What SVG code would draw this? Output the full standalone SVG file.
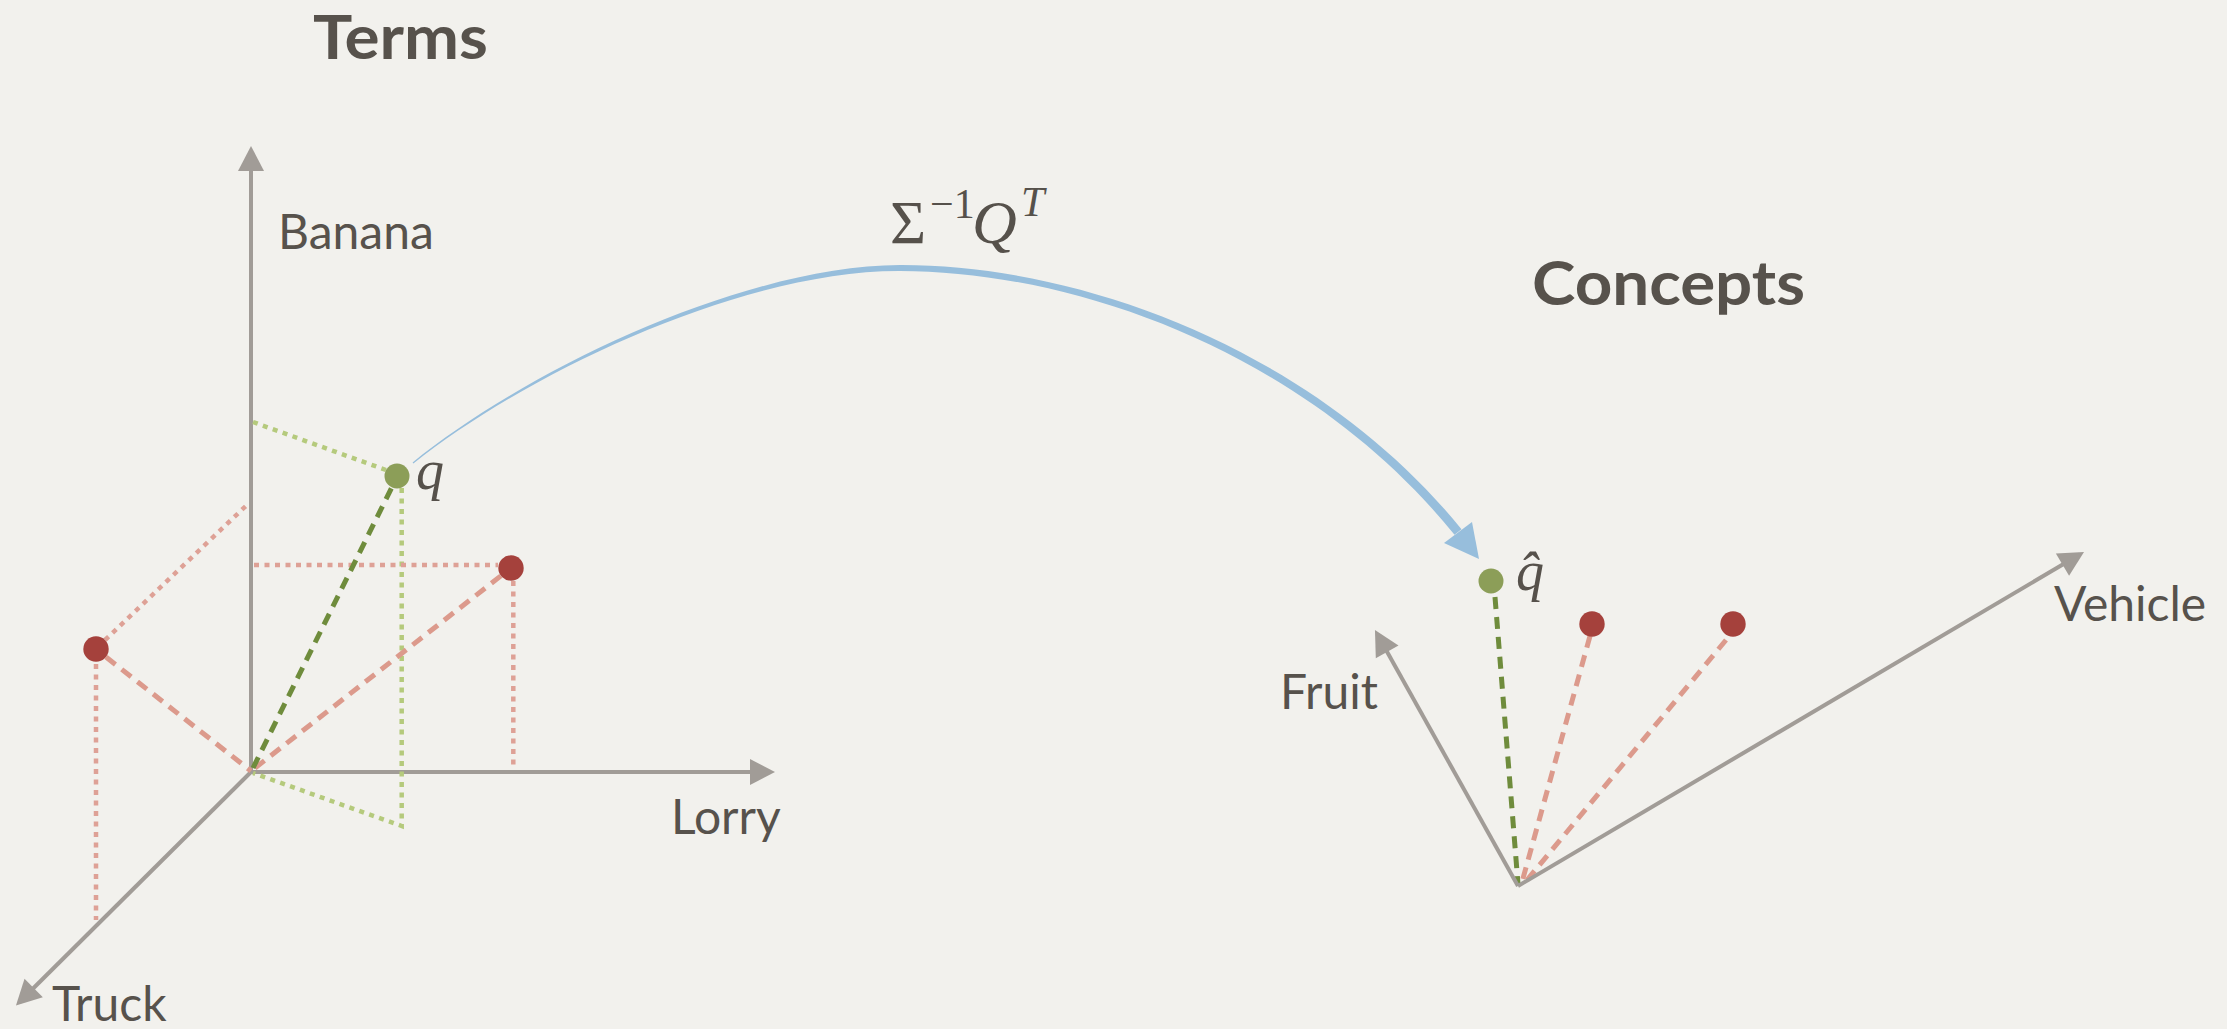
<svg xmlns="http://www.w3.org/2000/svg" width="2227" height="1029" viewBox="0 0 2227 1029">
<style>
.bg{fill:#f2f1ed}
.title{font-family:Lato,"Noto Sans",sans-serif;font-weight:700;font-size:62px;fill:#57524c}
.lbl{font-family:Lato,"Noto Sans",sans-serif;font-size:48px;fill:#57524c}
.math{font-family:"Liberation Serif","DejaVu Serif",serif;fill:#56514b}
.axis{stroke:#a19c97;stroke-width:4;fill:none}
.gdot{stroke:#b5ca7c;stroke-width:4.5;stroke-dasharray:5 5.5;fill:none}
.rdot{stroke:#dea196;stroke-width:4.5;stroke-dasharray:5 5.5;fill:none}
.gdash{stroke:#6f8c3c;stroke-width:5;stroke-dasharray:12 8;fill:none}
.rdash{stroke:#dc9a8c;stroke-width:5;stroke-dasharray:12 8;fill:none}
.rpt{fill:#a5413c}
.gpt{fill:#8c9e58}
.arc{fill:#97bedc}
</style>
<defs>
<marker id="ah" markerUnits="userSpaceOnUse" markerWidth="25" markerHeight="26" refX="20" refY="13" orient="auto" overflow="visible">
<path d="M0,0 L25,13 L0,26 Z" fill="#a19c97"/>
</marker>
</defs>
<rect class="bg" x="0" y="0" width="2227" height="1029"/>

<g id="title-terms"><text class="title" x="313" y="59" textLength="175" lengthAdjust="spacingAndGlyphs">Terms</text></g>
<g id="title-concepts"><text class="title" x="1532" y="305" textLength="273" lengthAdjust="spacingAndGlyphs">Concepts</text></g>

<g id="terms-axes">
<line class="axis" x1="251" y1="772" x2="251" y2="151" marker-end="url(#ah)"/>
<line class="axis" x1="249" y1="772" x2="770" y2="772" marker-end="url(#ah)"/>
<line class="axis" x1="252" y1="771" x2="19.5" y2="1002" marker-end="url(#ah)"/>
<text class="lbl" x="278" y="249">Banana</text>
<text class="lbl" x="671" y="834">Lorry</text>
<text class="lbl" x="52" y="1021">Truck</text>
</g>

<g id="connectors">
<polyline class="gdot" points="253,422 386,470"/>
<polyline class="gdot" points="401.7,488 401.7,826 253,773"/>
<line class="rdot" x1="254" y1="565" x2="498" y2="565"/>
<line class="rdot" x1="513.3" y1="581" x2="513.3" y2="770"/>
<line class="rdot" x1="105" y1="640" x2="249" y2="503"/>
<line class="rdot" x1="96" y1="664" x2="96" y2="920"/>
<line class="rdash" x1="106" y1="657" x2="251" y2="771"/>
<line class="rdash" x1="255" y1="768" x2="502" y2="575"/>
<line class="gdash" x1="253" y1="768" x2="392" y2="487"/>

<line class="gdash" x1="1495" y1="597" x2="1518" y2="884"/>
<line class="rdash" x1="1590" y1="636" x2="1522" y2="882"/>
<line class="rdash" x1="1726" y1="640" x2="1527" y2="880"/>

<g id="transform-arrow">
<path class="arc" d="M412.6,462.5 C526.2,370 744,265.8 900,265.1 C1086,264.5 1319.4,353.8 1461.5,529.2 L1454.5,534.8 C1312.6,359.2 1086,271.5 900,270.9 C744,270.2 527.8,372 413.4,463.5 Z"/>
<path class="arc" d="M1479,559 L1444,543 L1472,522 Z"/>
</g>
</g>

<g id="terms-points">
<circle class="gpt" cx="397" cy="476" r="12.5"/>
<circle class="rpt" cx="511" cy="568" r="12.7"/>
<circle class="rpt" cx="96" cy="649" r="12.7"/>
<text class="math" x="416" y="489" font-size="56" font-style="italic">q</text>
</g>

<g id="formula">
<text class="math" x="890" y="243" font-size="62">Σ<tspan x="930" y="218" font-size="42">−1</tspan><tspan x="972" y="243" font-style="italic">Q</tspan><tspan x="1021" y="216" font-size="42" font-style="italic">T</tspan></text>
</g>

<g id="concepts-axes">
<line class="axis" x1="1518" y1="886" x2="1377.4" y2="634.4" marker-end="url(#ah)"/>
<line class="axis" x1="1518" y1="886" x2="2079.7" y2="554.5" marker-end="url(#ah)"/>
<text class="lbl" x="1280" y="709">Fruit</text>
<text class="lbl" x="2054" y="621">Vehicle</text>
</g>

<g id="concepts-points">
<circle class="gpt" cx="1491" cy="581" r="12.5"/>
<circle class="rpt" cx="1592" cy="624" r="12.7"/>
<circle class="rpt" cx="1733" cy="624" r="12.7"/>
<text class="math" x="1516" y="590" font-size="56" font-style="italic">q̂</text>
</g>
</svg>
